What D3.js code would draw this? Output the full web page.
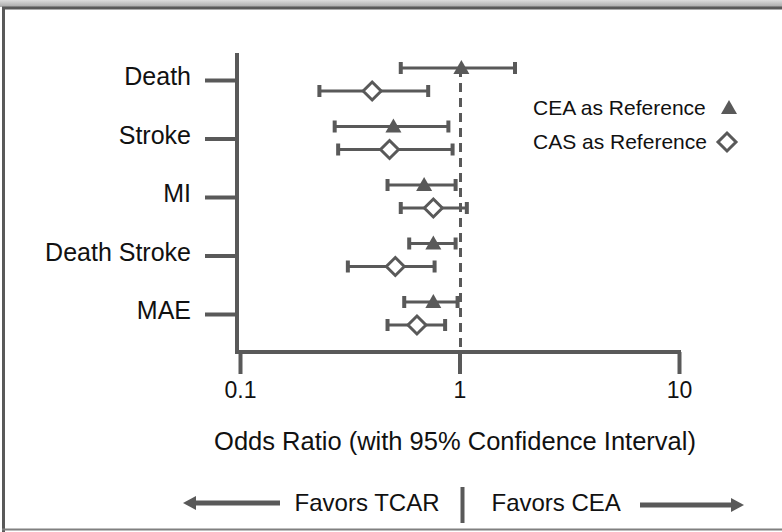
<!DOCTYPE html>
<html>
<head>
<meta charset="utf-8">
<script src="https://cdn.jsdelivr.net/npm/d3@7"></script>
<style>
  html, body { margin: 0; padding: 0; background: #fff; }
  text { font-family: "Liberation Sans", Arial, sans-serif; fill: #111; }
</style>
</head>
<body>
<div id="svg-container"></div>
<script>
const Width = 782;
const Height = 532;

// outcomes, top to bottom
const categories = ["Death", "Stroke", "MI", "Death Stroke", "MAE"];
const seriesNames = ["CEA as Reference", "CAS as Reference"];

// odds ratios with 95% CI
const ceaOR   = [1.02, 0.50, 0.69, 0.76, 0.76];
const ceaLow  = [0.54, 0.27, 0.47, 0.59, 0.56];
const ceaHigh = [1.79, 0.89, 0.96, 0.96, 0.98];

const casOR   = [0.40, 0.48, 0.76, 0.51, 0.64];
const casLow  = [0.23, 0.28, 0.54, 0.31, 0.47];
const casHigh = [0.72, 0.93, 1.08, 0.77, 0.86];

const xTicks = [0.1, 1, 10];

const grey = "#595959";

const svg = d3.select("#svg-container").append("svg").attr("width", Width).attr("height", Height);

// frame
const defs = svg.append("defs");
const grad = defs.append("linearGradient").attr("id", "topband").attr("x1", 0).attr("y1", 0).attr("x2", 0).attr("y2", 1);
grad.append("stop").attr("offset", "0%").attr("stop-color", "#dcdcdc");
grad.append("stop").attr("offset", "100%").attr("stop-color", "#a8a8a8");
svg.append("rect").attr("x", 0).attr("y", 0).attr("width", Width).attr("height", 7).attr("fill", "url(#topband)");
svg.append("line").attr("x1", 2).attr("x2", Width).attr("y1", 8).attr("y2", 8)
    .attr("stroke", grey).attr("stroke-width", 3);
svg.append("line").attr("x1", 3.5).attr("x2", 3.5).attr("y1", 7).attr("y2", Height)
    .attr("stroke", grey).attr("stroke-width", 3);
svg.append("line").attr("x1", 2).attr("x2", Width).attr("y1", 529.5).attr("y2", 529.5)
    .attr("stroke", "#808080").attr("stroke-width", 2);

// scales
const x = d3.scaleLog().domain([0.1, 10]).range([240, 679]);
const y = d3.scalePoint().domain(categories).range([80, 314]);
const offset = d3.scalePoint().domain(seriesNames).range([-12, 11]);

const axisY = 352;

// x axis
const xAxis = svg.append("g")
    .attr("transform", `translate(0, ${axisY})`)
    .call(d3.axisBottom(x).tickValues(xTicks).tickFormat(d3.format("~g")).tickSize(22).tickSizeOuter(0).tickPadding(8));
xAxis.select(".domain").remove();
xAxis.selectAll(".tick line").attr("stroke", grey).attr("stroke-width", 4);
xAxis.selectAll(".tick text").attr("font-size", 23).attr("font-family", "Liberation Sans, Arial, sans-serif").attr("fill", "#111");

// y axis
const yAxis = svg.append("g")
    .attr("transform", "translate(237, 0)")
    .call(d3.axisLeft(y).tickSize(32).tickPadding(14));
yAxis.select(".domain").remove();
yAxis.selectAll(".tick line").attr("stroke", grey).attr("stroke-width", 4);
yAxis.selectAll(".tick text").attr("font-size", 25).attr("dy", "0.18em")
    .attr("font-family", "Liberation Sans, Arial, sans-serif").attr("fill", "#111");

// axis lines
svg.append("line").attr("x1", 237).attr("x2", 237).attr("y1", 53).attr("y2", axisY + 2)
    .attr("stroke", grey).attr("stroke-width", 4);
svg.append("line").attr("x1", 235).attr("x2", x(10) + 2).attr("y1", axisY).attr("y2", axisY)
    .attr("stroke", grey).attr("stroke-width", 4);

// reference line at OR = 1
svg.append("line").attr("x1", x(1) + 1).attr("x2", x(1) + 1).attr("y1", 68).attr("y2", axisY)
    .attr("stroke", grey).attr("stroke-width", 3).attr("stroke-dasharray", "9,6");

// rows
const rows = [];
categories.forEach((c, i) => {
    rows.push({cat: c, series: seriesNames[0], or: ceaOR[i], lo: ceaLow[i], hi: ceaHigh[i]});
    rows.push({cat: c, series: seriesNames[1], or: casOR[i], lo: casLow[i], hi: casHigh[i]});
});
const rowY = d => y(d.cat) + offset(d.series);

const bars = svg.append("g").selectAll("g").data(rows).join("g");
bars.append("line")
    .attr("x1", d => x(d.lo)).attr("x2", d => x(d.hi))
    .attr("y1", rowY).attr("y2", rowY)
    .attr("stroke", grey).attr("stroke-width", 3);
bars.append("rect")
    .attr("x", d => x(d.lo) - 2).attr("y", d => rowY(d) - 6)
    .attr("width", 4).attr("height", 12).attr("fill", grey);
bars.append("rect")
    .attr("x", d => x(d.hi) - 2).attr("y", d => rowY(d) - 6)
    .attr("width", 4).attr("height", 12).attr("fill", grey);

const triangle = "M0,-8 L8,6 L-8,6 Z";
const diamond = "M0,-9 L9,0 L0,9 L-9,0 Z";

bars.filter(d => d.series === seriesNames[0]).append("path")
    .attr("d", triangle)
    .attr("transform", d => `translate(${x(d.or)}, ${rowY(d)})`)
    .attr("fill", grey);
bars.filter(d => d.series === seriesNames[1]).append("path")
    .attr("d", diamond)
    .attr("transform", d => `translate(${x(d.or)}, ${rowY(d)})`)
    .attr("fill", "#fff").attr("stroke", grey).attr("stroke-width", 3);

// legend
const legend = svg.append("g");
legend.append("text").attr("x", 533).attr("y", 115).attr("font-size", 21).text(seriesNames[0]);
legend.append("path").attr("d", triangle).attr("transform", "translate(729, 108)").attr("fill", grey);
legend.append("text").attr("x", 533).attr("y", 149).attr("font-size", 21).text(seriesNames[1]);
legend.append("path").attr("d", diamond).attr("transform", "translate(727, 142)")
    .attr("fill", "#fff").attr("stroke", grey).attr("stroke-width", 3);

// axis title
svg.append("text").attr("x", 455).attr("y", 450).attr("text-anchor", "middle").attr("font-size", 25.5)
    .text("Odds Ratio (with 95% Confidence Interval)");

// favours footer
const mid = x(1) + 3;
svg.append("line").attr("x1", mid).attr("x2", mid).attr("y1", 487).attr("y2", 523)
    .attr("stroke", grey).attr("stroke-width", 4);
svg.append("text").attr("x", mid - 23).attr("y", 511).attr("text-anchor", "end").attr("font-size", 24)
    .text("Favors TCAR");
svg.append("text").attr("x", mid + 29).attr("y", 511).attr("font-size", 24)
    .text("Favors CEA");

svg.append("line").attr("x1", 193).attr("x2", 280).attr("y1", 503).attr("y2", 503)
    .attr("stroke", grey).attr("stroke-width", 5);
svg.append("path").attr("d", "M183,503 L196,496 L196,510 Z").attr("fill", grey);
svg.append("line").attr("x1", 640).attr("x2", 732).attr("y1", 505).attr("y2", 505)
    .attr("stroke", grey).attr("stroke-width", 5);
svg.append("path").attr("d", "M744,505 L731,498 L731,512 Z").attr("fill", grey);
</script>
</body>
</html>
